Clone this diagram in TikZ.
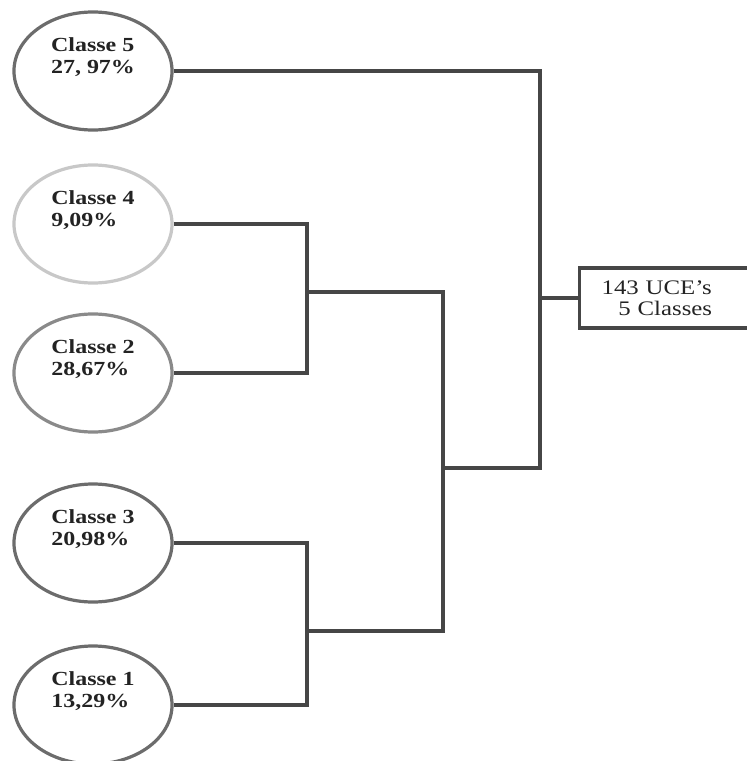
\documentclass[tikz,border=0pt]{standalone}
\definecolor{main}{RGB}{70,70,70}
\definecolor{second}{RGB}{108,108,108}
\definecolor{third}{RGB}{200,200,200}
\definecolor{fourth}{RGB}{138,138,138}
\definecolor{textc}{RGB}{35,35,35}
\usepackage{fontspec}
\setmainfont[FakeStretch=1.2]{Liberation Serif}
\usepackage{tikz}
\usetikzlibrary{
	arrows.meta,
	positioning,
	shapes.geometric,
	calc
}
\tikzset{
  % line
	clsline/.style     ={draw=main,line width=0.08cm,line join=miter}, % ligacao
  % node
	clsnode/.style     ={ellipse,draw=second,fill=white,line width=0.08cm,minimum width=3.95cm,minimum height=2.95cm,inner sep=0pt},
	clsnode1/.style    ={clsnode,draw=third},
	clsnode2/.style    ={clsnode,draw=fourth},
	clstext/.style     ={align=left,text=textc,font=\fontsize{14.2}{15.2}\selectfont\bfseries,inner sep=0pt},
	clsbox/.style      ={draw=main,line width=0.08cm,align=left,text=textc,font=\fontsize{14.7}{15.2}\selectfont,
	                     text width=3.45cm,inner xsep=0.55cm,minimum height=1.5cm,anchor=west}
}
\begin{document}
\begin{tikzpicture}[x=0.025cm,y=-0.025cm]
				\clip (0,0) rectangle (747,761);
				% classes
				\node[clsnode]  (c5) at (93,71)  {};
				\node[clsnode1] (c4) at (93,224) {};
				\node[clsnode2] (c2) at (93,373) {};
				\node[clsnode]  (c3) at (93,543) {};
				\node[clsnode]  (c1) at (93,705) {};
				\node[clstext] (t5) at ([yshift=0.35cm]c5.center) {Classe 5\\27, 97\%};
				\node[clstext] (t4) at ([yshift=0.35cm]c4.center) {Classe 4\\9,09\%};
				\node[clstext] (t2) at ([yshift=0.35cm]c2.center) {Classe 2\\28,67\%};
				\node[clstext] (t3) at ([yshift=0.35cm]c3.center) {Classe 3\\20,98\%};
				\node[clstext] (t1) at ([yshift=0.35cm]c1.center) {Classe 1\\13,29\%};
				\node[clsbox] (total) at (578,298) {143 UCE’s\\\hspace{0.42cm}5 Classes};
				% junctions
				\coordinate (j42) at (307,292);
				\coordinate (j31) at (307,631);
				\coordinate (j4231) at (443,468);
				\coordinate (jall) at (540,298);
				\draw[clsline] (c4.east) -| (j42) |- (c2.east);
				\draw[clsline] (c3.east) -| (j31) |- (c1.east);
				\draw[clsline] (j42) -| (j4231);
				\draw[clsline] (j31) -| (j4231);
				\draw[clsline] (c5.east) -| (jall);
				\draw[clsline] (j4231) -| (jall);
				\draw[clsline] (jall) -- (total.west);
			\end{tikzpicture}
\end{document}
